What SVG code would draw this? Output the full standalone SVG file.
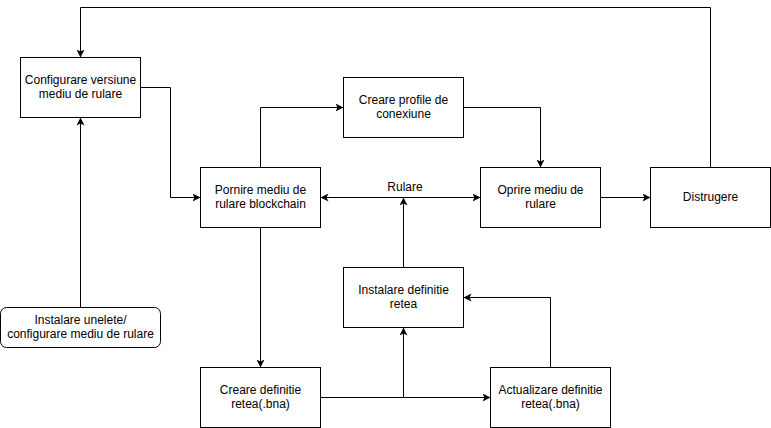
<svg xmlns="http://www.w3.org/2000/svg" width="771" height="428" viewBox="0 0 771 428">
<style>
.box{fill:#fff;stroke:#000;stroke-width:1}
.t{font-family:"Liberation Sans",Arial,sans-serif;font-size:12px;fill:#000;text-anchor:middle}
.c{fill:none;stroke:#000;stroke-width:1}
</style>
<defs>
<marker id="a" markerUnits="userSpaceOnUse" markerWidth="10" markerHeight="10" refX="8" refY="4" orient="auto-start-reverse">
<path d="M0,0 L8,4 L0,8 L2,4 Z" fill="#000"/>
</marker>
</defs>
<rect width="771" height="428" fill="#fff"/>
<g id="connectors">
<path class="c" d="M710.5,167.5 V7.5 H80.5 V57.5" marker-end="url(#a)"/>
<path class="c" d="M80.5,307.5 V117.5" marker-end="url(#a)"/>
<path class="c" d="M140.5,87.5 H170.5 V197.5 H200.5" marker-end="url(#a)"/>
<path class="c" d="M260.5,167.5 V107.5 H343.5" marker-end="url(#a)"/>
<path class="c" d="M463.5,107.5 H540.5 V167.5" marker-end="url(#a)"/>
<path class="c" d="M320.5,197.5 H480.5" marker-start="url(#a)" marker-end="url(#a)"/>
<path class="c" d="M403.5,267.5 V197.5" marker-end="url(#a)"/>
<path class="c" d="M600.5,197.5 H650.5" marker-end="url(#a)"/>
<path class="c" d="M260.5,227.5 V367.5" marker-end="url(#a)"/>
<path class="c" d="M320.5,397.5 H490.5" marker-end="url(#a)"/>
<path class="c" d="M403.5,397.5 V327.5" marker-end="url(#a)"/>
<path class="c" d="M550.5,367.5 V297.5 H463.5" marker-end="url(#a)"/>
<text class="t" x="405" y="191">Rulare</text>
</g>
<g id="configurare">
<rect class="box" x="20.5" y="57.5" width="120" height="60"/>
<text class="t" x="80.5" y="84">Configurare versiune</text>
<text class="t" x="80.5" y="98">mediu de rulare</text>
</g>
<g id="instalare-unelete">
<rect class="box" x="0.5" y="307.5" width="160" height="40" rx="6"/>
<text class="t" x="80.5" y="324">Instalare unelete/</text>
<text class="t" x="80.5" y="338">configurare mediu de rulare</text>
</g>
<g id="pornire">
<rect class="box" x="200.5" y="167.5" width="120" height="60"/>
<text class="t" x="260.5" y="194">Pornire mediu de</text>
<text class="t" x="260.5" y="208">rulare blockchain</text>
</g>
<g id="creare-profile">
<rect class="box" x="343.5" y="77.5" width="120" height="60"/>
<text class="t" x="403.5" y="104">Creare profile de</text>
<text class="t" x="403.5" y="118">conexiune</text>
</g>
<g id="oprire">
<rect class="box" x="480.5" y="167.5" width="120" height="60"/>
<text class="t" x="540.5" y="194">Oprire mediu de</text>
<text class="t" x="540.5" y="208">rulare</text>
</g>
<g id="distrugere">
<rect class="box" x="650.5" y="167.5" width="120" height="60"/>
<text class="t" x="710.5" y="201">Distrugere</text>
</g>
<g id="instalare-definitie">
<rect class="box" x="343.5" y="267.5" width="120" height="60"/>
<text class="t" x="403.5" y="294">Instalare definitie</text>
<text class="t" x="403.5" y="308">retea</text>
</g>
<g id="creare-definitie">
<rect class="box" x="200.5" y="367.5" width="120" height="60"/>
<text class="t" x="260.5" y="394">Creare definitie</text>
<text class="t" x="260.5" y="408">retea(.bna)</text>
</g>
<g id="actualizare">
<rect class="box" x="490.5" y="367.5" width="120" height="60"/>
<text class="t" x="550.5" y="394">Actualizare definitie</text>
<text class="t" x="550.5" y="408">retea(.bna)</text>
</g>
</svg>
